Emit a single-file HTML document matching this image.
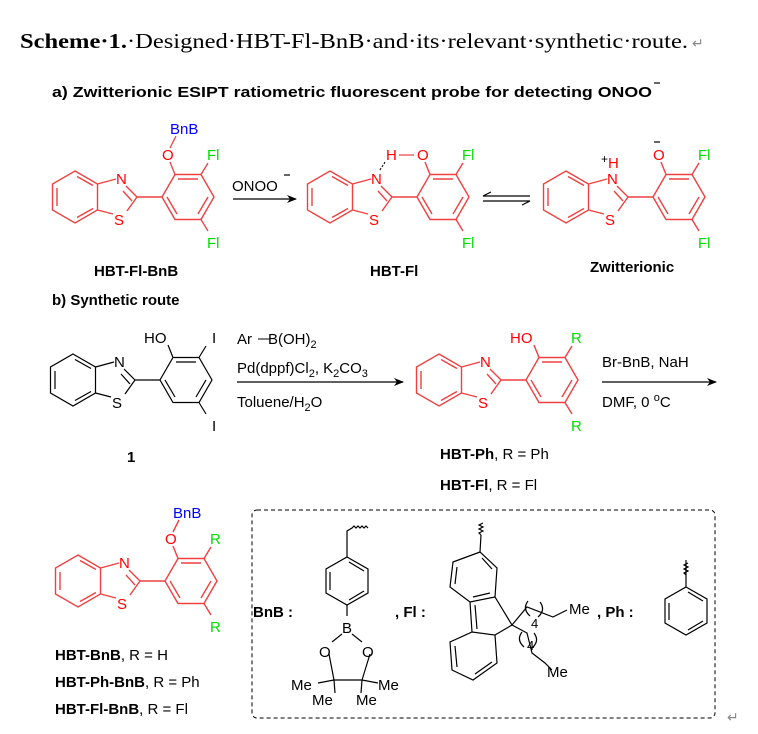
<!DOCTYPE html>
<html><head><meta charset="utf-8"><style>
html,body{margin:0;padding:0;background:#fff;}
svg{display:block;font-family:"Liberation Sans",sans-serif;}
.r{stroke:#f04040;fill:none;stroke-width:1.4}
.k{stroke:#000;fill:none;stroke-width:1.2}
.b{font-weight:bold}
</style></head><body>
<svg width="758" height="734" viewBox="0 0 758 734" xmlns="http://www.w3.org/2000/svg">
<defs>
<marker id="ah" markerWidth="10" markerHeight="8" refX="9" refY="4" orient="auto" markerUnits="userSpaceOnUse"><path d="M0,0 L10,4 L0,8 L3,4 Z" fill="#000"/></marker>
</defs>
<text x="20" y="48" font-family="Liberation Serif,serif" font-size="21" textLength="668" lengthAdjust="spacingAndGlyphs"><tspan font-weight="bold">Scheme·1.</tspan>·Designed·HBT-Fl-BnB·and·its·relevant·synthetic·route.</text>
<text x="692" y="48" font-size="14" fill="#888">↵</text>
<text x="52" y="97" font-size="15" class="b" textLength="600" lengthAdjust="spacingAndGlyphs">a) Zwitterionic ESIPT ratiometric fluorescent probe for detecting ONOO</text>
<line x1="654" y1="83" x2="660" y2="83" stroke="#000" stroke-width="1.2"/>

<g id="m1" class="r">
<path d="M75,171 L97.5,184 L97.5,210 L75,223 L52.5,210 L52.5,184 Z"/>
<path d="M57,188 L57,206 M77,176.5 L93,185.5 M77,217.5 L93,208.5"/>
<path d="M97.5,184 L116,179 M126,186 L137,197 M123,191 L132,201 M137,197 L127,211 M113,214 L97.5,210 M137,197 L162,197"/>
<path d="M214,197 L201,219.5 L175,219.5 L162,197 L175,174.5 L201,174.5 Z"/>
<path d="M178,179 L198,179 M208,197 L198,214 M167,197 L177,214"/>
</g>
<text x="116" y="184" font-size="15" fill="#f00">N</text>
<text x="114" y="225" font-size="15" fill="#f00">S</text>
<path d="M175,174.5 L170,162 M170,148 L176,136 M201,174.5 L208,163 M201,219.5 L208,231" stroke="#f04040" stroke-width="1.3" fill="none"/>
<text x="162" y="160" font-size="15" fill="#f00">O</text>
<text x="170" y="134" font-size="15" fill="#00f">BnB</text>
<text x="207" y="160" font-size="15" fill="#0d0">Fl</text>
<text x="207" y="248" font-size="15" fill="#0d0">Fl</text>
<text x="94" y="276" font-size="15" class="b">HBT-Fl-BnB</text>

<text x="232" y="191" font-size="15">ONOO</text>
<line x1="284" y1="175" x2="290" y2="175" stroke="#000" stroke-width="1.2"/>
<line x1="233" y1="199" x2="296" y2="199" stroke="#000" stroke-width="1.2" marker-end="url(#ah)"/>

<g transform="translate(255,0)">
<path class="r" d="M75,171 L97.5,184 L97.5,210 L75,223 L52.5,210 L52.5,184 Z M57,188 L57,206 M77,176.5 L93,185.5 M77,217.5 L93,208.5 M97.5,184 L116,179 M126,186 L137,197 M123,191 L132,201 M137,197 L127,211 M113,214 L97.5,210 M137,197 L162,197 M214,197 L201,219.5 L175,219.5 L162,197 L175,174.5 L201,174.5 Z M178,179 L198,179 M208,197 L198,214 M167,197 L177,214 M175,174.5 L170,162 M201,174.5 L208,163 M201,219.5 L208,231"/>
<text x="116" y="184" font-size="15" fill="#f00">N</text>
<text x="114" y="225" font-size="15" fill="#f00">S</text>
<text x="162" y="160" font-size="15" fill="#f00">O</text>
<text x="131" y="160" font-size="15" fill="#f00">H</text>
<line x1="144" y1="155" x2="159" y2="155" stroke="#f04040" stroke-width="1.2"/>
<path d="M125,170 l1,-2 M127,167 l1,-2 M129,164 l1,-2" stroke="#000" stroke-width="1"/>
<text x="207" y="160" font-size="15" fill="#0d0">Fl</text>
<text x="207" y="248" font-size="15" fill="#0d0">Fl</text>
<text x="115" y="276" font-size="15" class="b">HBT-Fl</text>
</g>

<path d="M483,196 L530,196 M483,196 L491,192" stroke="#000" stroke-width="1.2" fill="none"/>
<path d="M483,201 L530,201 L522,205" stroke="#000" stroke-width="1.2" fill="none"/>

<g transform="translate(491,0)">
<path class="r" d="M75,171 L97.5,184 L97.5,210 L75,223 L52.5,210 L52.5,184 Z M57,188 L57,206 M77,176.5 L93,185.5 M77,217.5 L93,208.5 M97.5,184 L116,179 M126,186 L137,197 M123,191 L132,201 M137,197 L127,211 M113,214 L97.5,210 M137,197 L162,197 M214,197 L201,219.5 L175,219.5 L162,197 L175,174.5 L201,174.5 Z M178,179 L198,179 M208,197 L198,214 M167,197 L177,214 M175,174.5 L170,162 M201,174.5 L208,163 M201,219.5 L208,231"/>
<text x="116" y="184" font-size="15" fill="#f00">N</text>
<text x="117" y="168" font-size="15" fill="#f00">H</text>
<text x="110" y="163" font-size="12" fill="#000">+</text>
<text x="114" y="225" font-size="15" fill="#f00">S</text>
<text x="162" y="160" font-size="15" fill="#f00">O</text>
<line x1="163" y1="142" x2="169" y2="142" stroke="#000" stroke-width="1.2"/>
<text x="207" y="160" font-size="15" fill="#0d0">Fl</text>
<text x="207" y="248" font-size="15" fill="#0d0">Fl</text>
<text x="99" y="272" font-size="15" class="b">Zwitterionic</text>
</g>

<text x="52" y="305" font-size="15" class="b">b) Synthetic route</text>

<g transform="translate(-2,183)">
<path class="k" d="M75,171 L97.5,184 L97.5,210 L75,223 L52.5,210 L52.5,184 Z M57,188 L57,206 M77,176.5 L93,185.5 M77,217.5 L93,208.5 M97.5,184 L116,179 M126,186 L137,197 M123,191 L132,201 M137,197 L127,211 M113,214 L97.5,210 M137,197 L162,197 M214,197 L201,219.5 L175,219.5 L162,197 L175,174.5 L201,174.5 Z M178,179 L198,179 M208,197 L198,214 M167,197 L177,214 M175,174.5 L170,162 M201,174.5 L208,163 M201,219.5 L208,231"/>
<text x="116" y="184" font-size="15">N</text>
<text x="114" y="225" font-size="15">S</text>
<text x="146" y="160" font-size="15">HO</text>
<text x="214" y="160" font-size="15">I</text>
<text x="214" y="248" font-size="15">I</text>
<text x="129" y="279" font-size="15" class="b">1</text>
</g>

<text x="237" y="344" font-size="15">Ar<tspan dx="16">B(OH)</tspan><tspan font-size="11" dy="4">2</tspan></text>
<line x1="258" y1="339" x2="270" y2="339" stroke="#000" stroke-width="1"/>
<text x="237" y="373" font-size="15">Pd(dppf)Cl<tspan font-size="11" dy="4">2</tspan><tspan dy="-4">, K</tspan><tspan font-size="11" dy="4">2</tspan><tspan dy="-4">CO</tspan><tspan font-size="11" dy="4">3</tspan></text>
<line x1="237" y1="382" x2="403" y2="382" stroke="#000" stroke-width="1.2" marker-end="url(#ah)"/>
<text x="237" y="407" font-size="15">Toluene/H<tspan font-size="11" dy="4">2</tspan><tspan dy="-4">O</tspan></text>

<g transform="translate(364,183)">
<path class="r" d="M75,171 L97.5,184 L97.5,210 L75,223 L52.5,210 L52.5,184 Z M57,188 L57,206 M77,176.5 L93,185.5 M77,217.5 L93,208.5 M97.5,184 L116,179 M126,186 L137,197 M123,191 L132,201 M137,197 L127,211 M113,214 L97.5,210 M137,197 L162,197 M214,197 L201,219.5 L175,219.5 L162,197 L175,174.5 L201,174.5 Z M178,179 L198,179 M208,197 L198,214 M167,197 L177,214 M175,174.5 L170,162 M201,174.5 L208,163 M201,219.5 L208,231"/>
<text x="116" y="184" font-size="15" fill="#f00">N</text>
<text x="114" y="225" font-size="15" fill="#f00">S</text>
<text x="146" y="160" font-size="15" fill="#f00">HO</text>
<text x="207" y="160" font-size="15" fill="#0d0">R</text>
<text x="207" y="248" font-size="15" fill="#0d0">R</text>
</g>
<text x="440" y="459" font-size="15"><tspan class="b">HBT-Ph</tspan>, R = Ph</text>
<text x="440" y="490" font-size="15"><tspan class="b">HBT-Fl</tspan>, R = Fl</text>

<text x="602" y="367" font-size="15">Br-BnB, NaH</text>
<line x1="602" y1="382" x2="716" y2="382" stroke="#000" stroke-width="1.2" marker-end="url(#ah)"/>
<text x="602" y="407" font-size="15">DMF, 0 <tspan font-size="11" dy="-6">o</tspan><tspan dy="6">C</tspan></text>

<g transform="translate(3,384)">
<path class="r" d="M75,171 L97.5,184 L97.5,210 L75,223 L52.5,210 L52.5,184 Z M57,188 L57,206 M77,176.5 L93,185.5 M77,217.5 L93,208.5 M97.5,184 L116,179 M126,186 L137,197 M123,191 L132,201 M137,197 L127,211 M113,214 L97.5,210 M137,197 L162,197 M214,197 L201,219.5 L175,219.5 L162,197 L175,174.5 L201,174.5 Z M178,179 L198,179 M208,197 L198,214 M167,197 L177,214 M175,174.5 L170,162 M170,148 L176,136 M201,174.5 L208,163 M201,219.5 L208,231"/>
<text x="116" y="184" font-size="15" fill="#f00">N</text>
<text x="114" y="225" font-size="15" fill="#f00">S</text>
<text x="162" y="160" font-size="15" fill="#f00">O</text>
<text x="170" y="134" font-size="15" fill="#00f">BnB</text>
<text x="207" y="160" font-size="15" fill="#0d0">R</text>
<text x="207" y="248" font-size="15" fill="#0d0">R</text>
</g>
<text x="55" y="660" font-size="15"><tspan class="b">HBT-BnB</tspan>, R = H</text>
<text x="55" y="687" font-size="15"><tspan class="b">HBT-Ph-BnB</tspan>, R = Ph</text>
<text x="55" y="714" font-size="15"><tspan class="b">HBT-Fl-BnB</tspan>, R = Fl</text>

<rect x="252" y="510" width="463" height="208" rx="5" fill="none" stroke="#000" stroke-width="1" stroke-dasharray="4,3"/>
<text x="727" y="722" font-size="14" fill="#888">↵</text>

<text x="253" y="617" font-size="15" class="b">BnB :</text>
<g class="k" stroke-width="1">
<path d="M347,557 L368,569 L368,593 L347,605 L326,593 L326,569 Z M330,572 L330,590 M349,562 L364,571 M349,600 L364,591"/>
<path d="M347,557 L347,531 L352,528 l2,-2 l2,2 l2,-2 l2,2 l2,-2 l2,2 l2,-2 l2,2"/>
<path d="M347,605 L347,616 M342,634 L332,642 M352,634 L362,642 M329,654 L334,680 M370,654 L362,680 M334,680 L362,680 M334,680 L318,683 M334,680 L335,693 M362,680 L378,683 M362,680 L361,693"/>
</g>
<text x="342" y="633" font-size="15">B</text>
<text x="319" y="657" font-size="15">O</text>
<text x="362" y="657" font-size="15">O</text>
<text x="291" y="690" font-size="15">Me</text>
<text x="378" y="690" font-size="15">Me</text>
<text x="312" y="705" font-size="15">Me</text>
<text x="356" y="705" font-size="15">Me</text>

<text x="395" y="617" font-size="15" class="b">, Fl :</text>
<g class="k" stroke-width="1">
<path d="M453,562 L480,552 L497,568 L495,597 L470,602 L450,587 Z M457,567 L455,584 M482,558 L492,569 M473,597 L490,593"/>
<path d="M480,552 L481,535 M481,535 l-2,-2 l4,-2 l-4,-2 l4,-2 l-4,-2 l4,-2"/>
<path d="M495,597 L512,625 L495,635 M470,602 L472,632 M475,605 L477,629"/>
<path d="M495,635 L497,663 L473,680 L452,670 L450,642 L472,632 Z M455,646 L457,667 M475,674 L492,662"/>
<path d="M512,625 L527,607 L553,617 L567,610 M512,625 L527,633 L532,653 L545,663 L552,670"/>
<path d="M528,601 q-6,8 2,15 M540,602 q6,8 -2,15 M522,632 q-6,8 2,15 M534,633 q6,8 -2,15"/>
</g>
<text x="531" y="628" font-size="13">4</text>
<text x="527" y="650" font-size="13">4</text>
<text x="569" y="614" font-size="15">Me</text>
<text x="547" y="677" font-size="15">Me</text>

<text x="597" y="617" font-size="15" class="b">, Ph :</text>
<g class="k" stroke-width="1">
<path d="M686,587 L707,599 L707,623 L686,635 L665,623 L665,599 Z M669,603 L669,620 M688,592 L703,601 M688,630 L703,621"/>
<path d="M686,587 L686,560 M686,575 l-2,-2 l4,-2 l-4,-2 l4,-2 l-4,-2 l4,-2"/>
</g>
</svg>
</body></html>
